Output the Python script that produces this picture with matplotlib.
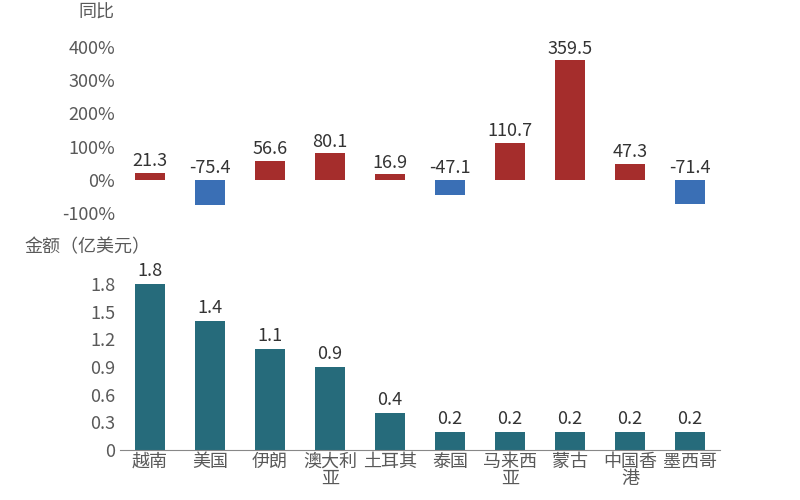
import matplotlib.pyplot as plt
import numpy as np

plt.rcParams["font.family"] = ["Noto Sans CJK SC", "DejaVu Sans"]

categories = ["越南", "美国", "伊朗", "澳大利\n亚", "土耳其", "泰国", "马来西\n亚", "蒙古", "中国香\n港", "墨西哥"]
yoy = [21.3, -75.4, 56.6, 80.1, 16.9, -47.1, 110.7, 359.5, 47.3, -71.4]
amount = [1.8, 1.4, 1.1, 0.9, 0.4, 0.2, 0.2, 0.2, 0.2, 0.2]

RED, BLUE, TEAL, GREY = "#a52d2c", "#3a6fb5", "#266b7b", "#595959"
x = np.arange(len(categories))

fig = plt.figure(figsize=(8, 5), dpi=100)
ax1 = fig.add_axes([0.15, 0.574, 0.75, 0.332])
ax2 = fig.add_axes([0.15, 0.10, 0.75, 0.332])

cols = [RED if v >= 0 else BLUE for v in yoy]
ax1.bar(x, yoy, width=0.5, color=cols)
for xi, v in zip(x, yoy):
    ax1.text(xi, max(v, 0) + 8, f"{v}", ha="center", va="bottom", fontsize=13, color="#333333")
ax1.set_ylim(-100, 400)
ax1.set_xlim(-0.5, len(x) - 0.5)
ax1.set_yticks(range(-100, 401, 100))
ax1.set_yticklabels([f"{t}%" for t in range(-100, 401, 100)])
ax1.set_xticks([])
for s in ax1.spines.values():
    s.set_visible(False)
ax1.tick_params(axis="y", length=0, labelsize=13, labelcolor=GREY)

ax2.bar(x, amount, width=0.5, color=TEAL)
for xi, v in zip(x, amount):
    ax2.text(xi, v + 0.04, f"{v}", ha="center", va="bottom", fontsize=13, color="#333333", clip_on=False)
ax2.set_ylim(0, 1.8)
ax2.set_xlim(-0.5, len(x) - 0.5)
ax2.set_yticks(np.arange(0, 1.81, 0.3))
ax2.set_yticklabels(["0", "0.3", "0.6", "0.9", "1.2", "1.5", "1.8"])
ax2.set_xticks(x)
ax2.set_xticklabels(categories, linespacing=0.95)
for s in ["top", "right", "left"]:
    ax2.spines[s].set_visible(False)
ax2.spines["bottom"].set_color("#888888")
ax2.tick_params(axis="y", length=0, labelsize=13, labelcolor=GREY)
ax2.tick_params(axis="x", length=0, labelsize=13, labelcolor=GREY, pad=2)

fig.text(0.098, 0.975, "同比", fontsize=13, color=GREY, va="center")
fig.text(0.03, 0.505, "金额（亿美元）", fontsize=13, color=GREY, va="center")

fig.savefig("out.png")
